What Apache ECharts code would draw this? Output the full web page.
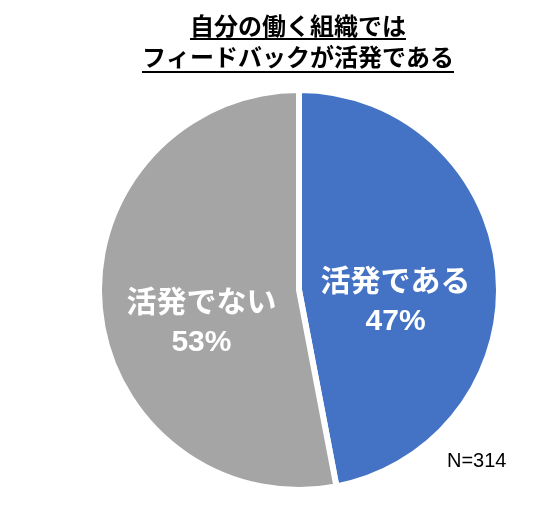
<!DOCTYPE html>
<html><head><meta charset="utf-8">
<script src="https://cdn.jsdelivr.net/npm/echarts@6/dist/echarts.min.js"></script>
<style>html,body{margin:0;padding:0;background:#fff}#c{width:536px;height:532px}</style>
</head><body><div id="c"></div>
<script>
const titleLines = ['自分の働く組織では', 'フィードバックが活発である'];
const categories = ['活発である', '活発でない'];
const values = [47, 53];
const colors = ['#4472C4', '#A5A5A5'];
const noteText = 'N=314';

const titleFont = 'bold 24px "Noto Sans CJK JP", sans-serif';
const ctx = document.createElement('canvas').getContext('2d');
ctx.font = titleFont;
const tY = [26, 57];
const uY = [39, 72];
const graphics = [];
titleLines.forEach((t, i) => {
  const w = ctx.measureText(t).width;
  graphics.push({type:'text', x:298, y:tY[i], style:{text:t, font: titleFont, fill:'#000', textAlign:'center', textVerticalAlign:'middle'}});
  graphics.push({type:'line', shape:{x1:298-w/2, y1:uY[i], x2:298+w/2, y2:uY[i]}, style:{stroke:'#000', lineWidth:2}});
});
graphics.push({type:'text', x:447, y:451, style:{text:noteText, font:'20px "Liberation Sans", Arial, sans-serif', fill:'#000'}});

const labelOffsets = [[-6, 22], [5, 24]];
const chart = echarts.init(document.getElementById('c'));
chart.setOption({
  animation:false,
  graphic: graphics,
  series:[{
    type:'pie',
    center:[299, 290],
    radius:[0, 200],
    startAngle:90,
    clockwise:true,
    data: categories.map((c,i)=>({name:c, value:values[i], itemStyle:{color:colors[i]}, label:{offset:labelOffsets[i]}})),
    itemStyle:{borderColor:'#fff', borderWidth:6},
    label:{
      position:'inside',
      formatter: p => p.name + '\n' + p.value + '%',
      color:'#fff',
      fontSize:30,
      fontWeight:'bold',
      lineHeight:39,
      fontFamily:'"Liberation Sans", "Noto Sans CJK JP", sans-serif'
    },
    labelLine:{show:false},
    emphasis:{disabled:true}
  }]
});
</script></body></html>
